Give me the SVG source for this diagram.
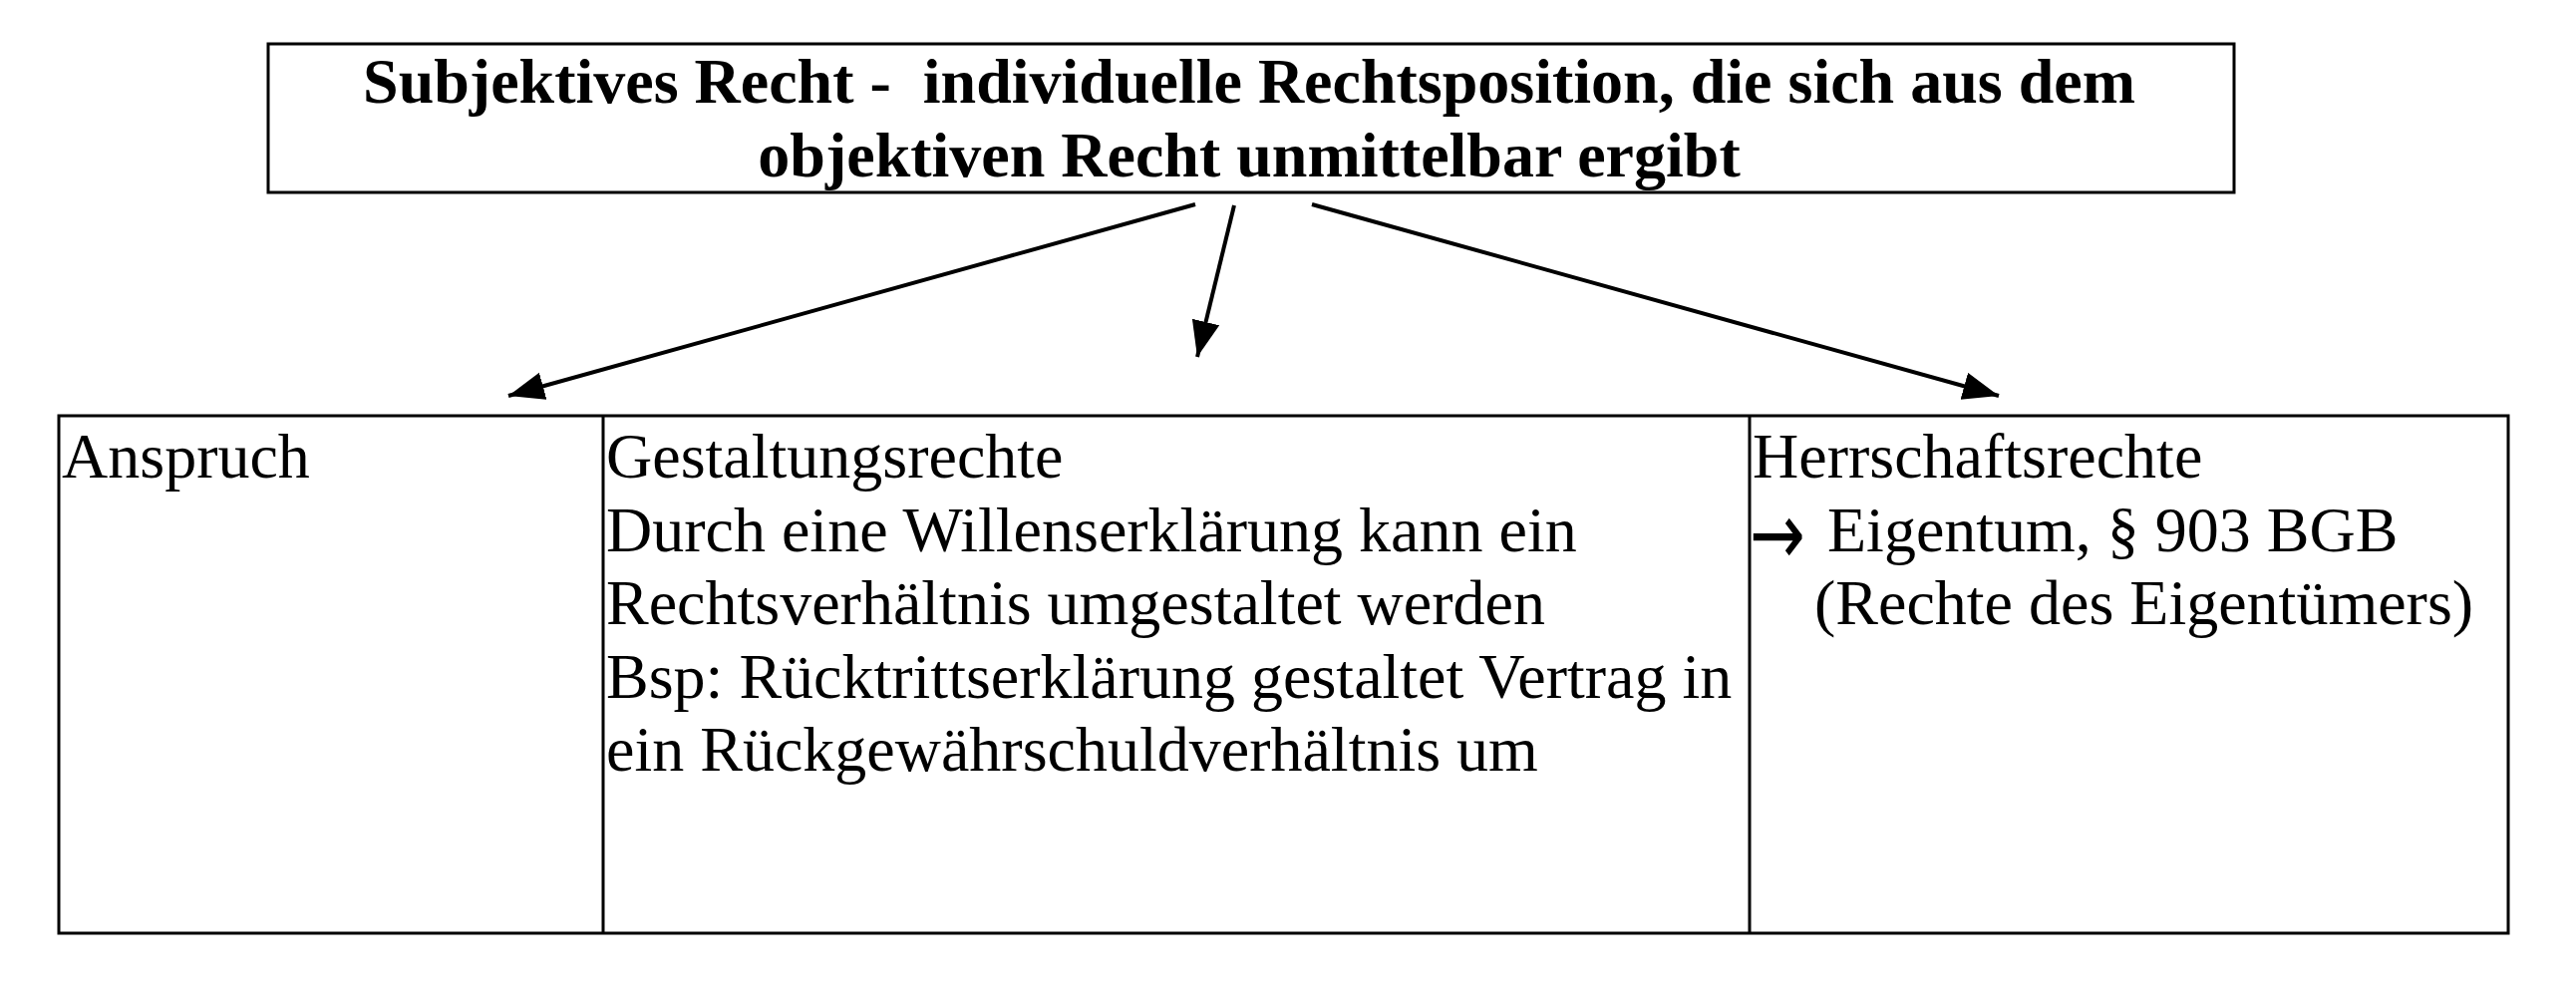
<svg xmlns="http://www.w3.org/2000/svg" width="2584" height="1000" viewBox="0 0 2584 1000">
  <style>
    .frame { fill: #fff; stroke: #000; stroke-width: 3; }
    .rule { stroke: #000; stroke-width: 3; fill: none; }
    .title { font-family: "Liberation Serif", "Times New Roman", serif; font-weight: bold; font-size: 64px; fill: #000; text-anchor: middle; white-space: pre; }
    .body { font-family: "Liberation Serif", "Times New Roman", serif; font-size: 64px; fill: #000; }
    .sym { font-family: "DejaVu Sans", sans-serif; font-size: 64px; fill: #000; }
    .conn { stroke: #000; stroke-width: 4; fill: none; }
  </style>
  <defs>
    <marker id="arrow" markerUnits="userSpaceOnUse" markerWidth="40" markerHeight="30" refX="36" refY="14" orient="auto">
      <path d="M0,0 L36,14 L0,28 Z" fill="#000"/>
    </marker>
  </defs>
  <rect width="2584" height="1000" fill="#fff"/>

  <!-- Definition box -->
  <g id="subjektives-recht">
    <rect class="frame" x="269" y="44" width="1972" height="149"/>
    <text class="title" x="1253" y="103" xml:space="preserve">Subjektives Recht -  individuelle Rechtsposition, die sich aus dem</text>
    <text class="title" x="1253" y="177">objektiven Recht unmittelbar ergibt</text>
  </g>

  <!-- Table with the three kinds of rights -->
  <g id="tabelle">
    <rect class="frame" x="59" y="417" width="2457" height="519"/>
  </g>

  <g id="anspruch">
    <text class="body" x="62" y="479">Anspruch</text>
  </g>

  <g id="gestaltungsrechte">
    <line class="rule" x1="605" y1="417" x2="605" y2="936"/>
    <text class="body" x="608" y="479">Gestaltungsrechte</text>
    <text class="body" x="608" y="552.5">Durch eine Willenserklärung kann ein</text>
    <text class="body" x="608" y="626">Rechtsverhältnis umgestaltet werden</text>
    <text class="body" x="608" y="699.5">Bsp: Rücktrittserklärung gestaltet Vertrag in</text>
    <text class="body" x="608" y="773">ein Rückgewährschuldverhältnis um</text>
  </g>

  <g id="herrschaftsrechte">
    <line class="rule" x1="1755" y1="417" x2="1755" y2="936"/>
    <text class="body" x="1758" y="479">Herrschaftsrechte</text>
    <text class="sym" transform="translate(1755,566) scale(1.04,1.37)">→</text>
    <text class="body" x="1833" y="552.5">Eigentum, § 903 BGB</text>
    <text class="body" x="1820" y="626">(Rechte des Eigentümers)</text>
  </g>

  <!-- Connectors -->
  <g id="connectors">
    <line class="conn" x1="1199" y1="205" x2="510" y2="397" marker-end="url(#arrow)"/>
    <line class="conn" x1="1238" y1="206" x2="1201" y2="358" marker-end="url(#arrow)"/>
    <line class="conn" x1="1316" y1="205" x2="2005" y2="397" marker-end="url(#arrow)"/>
  </g>
</svg>
